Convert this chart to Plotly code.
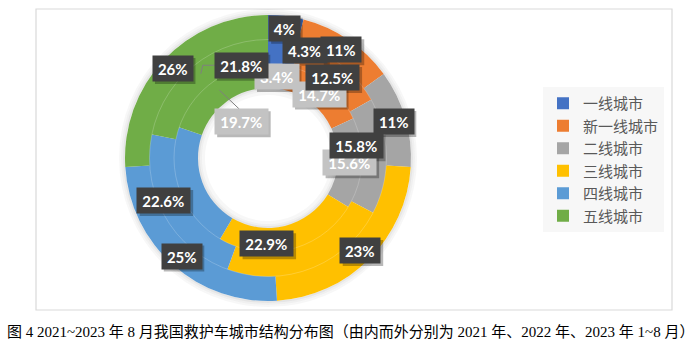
import plotly.graph_objects as go
import math

# ---------------- data ----------------
categories = ['一线城市', '新一线城市', '二线城市', '三线城市', '四线城市', '五线城市']
share_2021 = [3.4, 14.7, 15.6, 24.8, 21.8, 19.7]
share_2022 = [4.3, 12.5, 15.8, 22.9, 22.6, 21.8]
share_2023 = [4, 11, 11, 23, 25, 26]
label_fmt = {'2021': '{:.1f}%', '2022': '{:.1f}%', '2023': '{:.0f}%'}
shown_2021 = [True, True, True, False, False, True]
caption = '图 4 2021~2023 年 8 月我国救护车城市结构分布图（由内而外分别为 2021 年、2022 年、2023 年 1~8 月）'

# ---------------- style / geometry ----------------
W, H = 700, 345
colors = ['#4472C4', '#ED7D31', '#A5A5A5', '#FFC000', '#5B9BD5', '#70AD47']
CX, CY = 268, 158
R_HOLE, R1, R2, R3 = 70, 94, 118.5, 143
OVERLAP = 1.0


def X(px):
    return px / W


def Y(py):
    return 1 - py / H


def domain(r):
    return dict(x=[X(CX - r), X(CX + r)], y=[Y(CY + r), Y(CY - r)])


rings = [
    ('2021', share_2021, R_HOLE, R1),
    ('2022', share_2022, R1, R2),
    ('2023', share_2023, R2, R3),
]

fig = go.Figure()

# soft shadow around the donut and inside the hole
shadow_rings = [(R3, R3 + 2, 0.10), (R3 + 2, R3 + 4, 0.06), (R3 + 4, R3 + 6, 0.03),
                (R_HOLE - 2, R_HOLE + 1, 0.10), (R_HOLE - 4, R_HOLE - 2, 0.06),
                (R_HOLE - 7, R_HOLE - 4, 0.03)]
for r_in, r_out, a in shadow_rings:
    fig.add_trace(go.Pie(
        labels=['shadow'], values=[1], hole=r_in / r_out, domain=domain(r_out),
        textinfo='none', hoverinfo='skip', showlegend=False, sort=False,
        marker=dict(colors=[f'rgba(0,0,0,{a})'], line=dict(width=0)),
    ))

for i, (yr, vals, r_in, r_out) in enumerate(rings):
    ro = r_out + (OVERLAP if yr != '2023' else 0)
    fig.add_trace(go.Pie(
        labels=categories, values=vals, sort=False, direction='clockwise', rotation=0,
        hole=r_in / ro, domain=domain(ro), textinfo='none', hoverinfo='skip',
        marker=dict(colors=colors, line=dict(width=0)),
        showlegend=(yr == '2023'), name=yr,
    ))

# label placement offsets (pixels) for labels moved from the slice centre
offsets = {
    ('2022', 0): (22.7, -2.5), ('2022', 1): (-0.6, 3.1), ('2022', 2): (-18, -10.5),
    ('2022', 3): (-39.7, -13.2), ('2022', 4): (-11.4, -9.5), ('2022', 5): (40.3, -10.5),
    ('2021', 5): (21, 30.5),
}
leaders = {('2022', 5): 'left', ('2021', 5): 'top'}


def box_w(s):
    d = sum(ch.isdigit() for ch in s)
    return 9 * d + (4 if '.' in s else 0) + 21.5


BOX_H = 25
annotations = []
shapes = [dict(type='rect', xref='paper', yref='paper', x0=X(36), x1=X(672), y0=Y(310), y1=Y(9),
               line=dict(color='#d9d9d9', width=1.2), layer='below')]

# faint separators between rings
for r in (R1, R2):
    shapes.append(dict(type='circle', xref='paper', yref='paper',
                       x0=X(CX - r), x1=X(CX + r), y0=Y(CY + r), y1=Y(CY - r),
                       line=dict(color='rgba(255,255,255,0.25)', width=0.8)))

for yr, vals, r_in, r_out in rings:
    total = sum(vals)
    cum = 0
    rm = (r_in + r_out) / 2
    for j, v in enumerate(vals):
        mid = (cum + v / 2) / total * 2 * math.pi
        cum += v
        if yr == '2021' and not shown_2021[j]:
            continue
        ax = CX + rm * math.sin(mid)
        ay = CY - rm * math.cos(mid)
        dx, dy = offsets.get((yr, j), (0, 0))
        bx, by = ax + dx, ay + dy
        txt = label_fmt[yr].format(v)
        bw = box_w(txt)
        inner = yr == '2021'
        # drop shadow
        shapes.append(dict(type='rect', xref='paper', yref='paper',
                           x0=X(bx - bw / 2 + 2), x1=X(bx + bw / 2 + 3),
                           y0=Y(by + BOX_H / 2 + 3), y1=Y(by - BOX_H / 2 + 2),
                           fillcolor='rgba(0,0,0,0.28)', line=dict(width=0)))
        # leader line
        lt = leaders.get((yr, j))
        if lt == 'left':
            ex = bx - bw / 2
            shapes.append(dict(type='path', xref='paper', yref='paper',
                               path=f'M {X(ax)},{Y(ay - 2)} L {X(ex - 12)},{Y(by)} L {X(ex)},{Y(by)}',
                               line=dict(color='#7f7f7f', width=1)))
        elif lt == 'top':
            shapes.append(dict(type='line', xref='paper', yref='paper',
                               x0=X(ax - 1), y0=Y(ay - 1), x1=X(bx - 2), y1=Y(by - BOX_H / 2),
                               line=dict(color='#7f7f7f', width=1)))
        annotations.append(dict(
            x=X(bx), y=Y(by), xref='paper', yref='paper', xanchor='center', yanchor='middle',
            text=txt, showarrow=False, width=bw, height=BOX_H, borderpad=0,
            bgcolor='#c3c3c3' if inner else '#404040', align='center', valign='middle',
            font=dict(family='Lato, Open Sans, sans-serif', size=15, color='#ffffff',
                      weight='bold'),
        ))

annotations.append(dict(
    x=0.5, y=Y(332), xref='paper', yref='paper', xanchor='center', yanchor='middle',
    text=caption, showarrow=False,
    font=dict(family='Liberation Serif, Noto Sans CJK SC, serif', size=15, color='#000000'),
))

fig.update_layout(
    width=W, height=H, margin=dict(l=0, r=0, t=0, b=0),
    paper_bgcolor='white', plot_bgcolor='white',
    annotations=annotations, shapes=shapes,
    legend=dict(x=X(543), y=Y(87), xanchor='left', yanchor='top',
                bgcolor='rgba(242,242,242,0.6)', traceorder='normal',
                font=dict(family='Noto Sans CJK SC, sans-serif', size=15, color='#595959')),
)

fig.write_html('out.html')
